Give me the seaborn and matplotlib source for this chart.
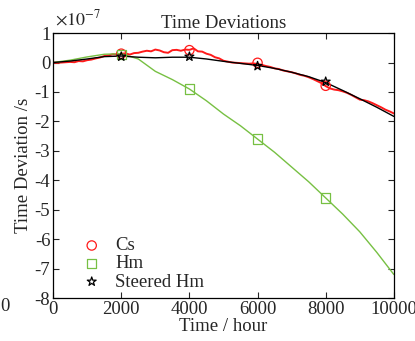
import numpy as np
import pandas as pd
import matplotlib
matplotlib.use("Agg")
import matplotlib.pyplot as plt
import seaborn as sns

# Desviaciones de tiempo en unidades de 1e-7 s
cs_hours = list(range(0, 10001, 125))
cs_dev = [0.0, -0.01, 0.0, 0.01, 0.02, 0.01, 0.05, 0.04, 0.08, 0.1,
          0.14, 0.17, 0.22, 0.24, 0.28, 0.27, 0.3, 0.31, 0.27, 0.32,
          0.33, 0.37, 0.4, 0.38, 0.44, 0.41, 0.35, 0.33, 0.42, 0.43,
          0.4, 0.44, 0.43, 0.48, 0.38, 0.37, 0.3, 0.26, 0.18, 0.14,
          0.06, 0.03, 0.0, -0.01, -0.02, -0.03, -0.04, -0.03, -0.05, -0.08,
          -0.12, -0.15, -0.2, -0.22, -0.27, -0.3, -0.33, -0.37, -0.42, -0.45,
          -0.5, -0.56, -0.63, -0.7, -0.8, -0.88, -0.92, -0.94, -0.98, -1.03,
          -1.1, -1.18, -1.26, -1.28, -1.32, -1.38, -1.45, -1.52, -1.6, -1.66,
          -1.73]

hm_hours = list(range(0, 10001, 500))
hm_dev = [0.0, 0.08, 0.19, 0.28, 0.3, 0.12, -0.3, -0.58, -0.9, -1.3,
          -1.75, -2.15, -2.6, -3.05, -3.55, -4.05, -4.6, -5.15, -5.75, -6.45,
          -7.2]

st_hours = list(range(0, 10001, 500))
st_dev = [0.0, 0.05, 0.12, 0.2, 0.22, 0.18, 0.16, 0.18, 0.18, 0.12,
          0.04, -0.03, -0.1, -0.2, -0.33, -0.48, -0.68, -0.95, -1.23, -1.52,
          -1.83]

marker_hours = [2000, 4000, 6000, 8000]
cs_marks = [0.3, 0.42, -0.01, -0.79]
hm_marks = [0.27, -0.9, -2.6, -4.6]
st_marks = [0.2, 0.2, -0.12, -0.65]

sns.set_style("ticks")
plt.rcParams['font.family'] = ['Liberation Serif', 'DejaVu Serif']
plt.rcParams['axes.unicode_minus'] = False
plt.rcParams['mathtext.fontset'] = 'stix'

RED = "#ff1a1a"
GREEN = "#77c043"

fig = plt.figure(figsize=(4.15, 3.41), dpi=100)
ax = fig.add_axes([0.128, 0.126, 0.821, 0.777])

sns.lineplot(x=cs_hours, y=cs_dev, color=RED, lw=1.4, ax=ax)
sns.lineplot(x=hm_hours, y=hm_dev, color=GREEN, lw=1.0, ax=ax)
sns.lineplot(x=st_hours, y=st_dev, color="black", lw=1.0, ax=ax)

ax.scatter(marker_hours, cs_marks, marker='o', s=45, facecolors='none',
           edgecolors=RED, linewidths=0.9, label='Cs', zorder=5)
ax.scatter(marker_hours, hm_marks, marker='s', s=45, facecolors='none',
           edgecolors=GREEN, linewidths=0.9, label='Hm', zorder=5)
ax.scatter(marker_hours, st_marks, marker='*', s=45, facecolors='none',
           edgecolors='black', linewidths=0.9, label='Steered Hm', zorder=5)

ax.set_xlim(0, 10000)
ax.set_ylim(-8, 1)
ax.set_xticks(range(0, 10001, 2000))
ax.set_yticks(range(-8, 2))
ax.tick_params(direction='in', top=True, right=True, length=4, labelsize=13.5,
               width=0.8, pad=2)
for sp in ax.spines.values():
    sp.set_linewidth(0.9)
    sp.set_color('black')

ax.set_title("Time Deviations", fontsize=13.5, pad=4)
ax.set_xlabel("Time / hour", fontsize=13.5, labelpad=0)
ax.set_ylabel("Time Deviation /s", fontsize=13.5, labelpad=2)
ax.text(0.005, 1.015, r"$\times 10^{-7}$", transform=ax.transAxes,
        fontsize=13, ha='left', va='bottom')
fig.text(0.0, 0.075, "0", fontsize=13.5, ha='left', va='bottom')

ax.legend(loc='lower left', frameon=False, fontsize=13.5, handletextpad=0.5,
          handlelength=1.5, borderaxespad=0.0, labelspacing=0.05,
          bbox_to_anchor=(0.05, 0.0))

fig.savefig("out.png", dpi=100)
